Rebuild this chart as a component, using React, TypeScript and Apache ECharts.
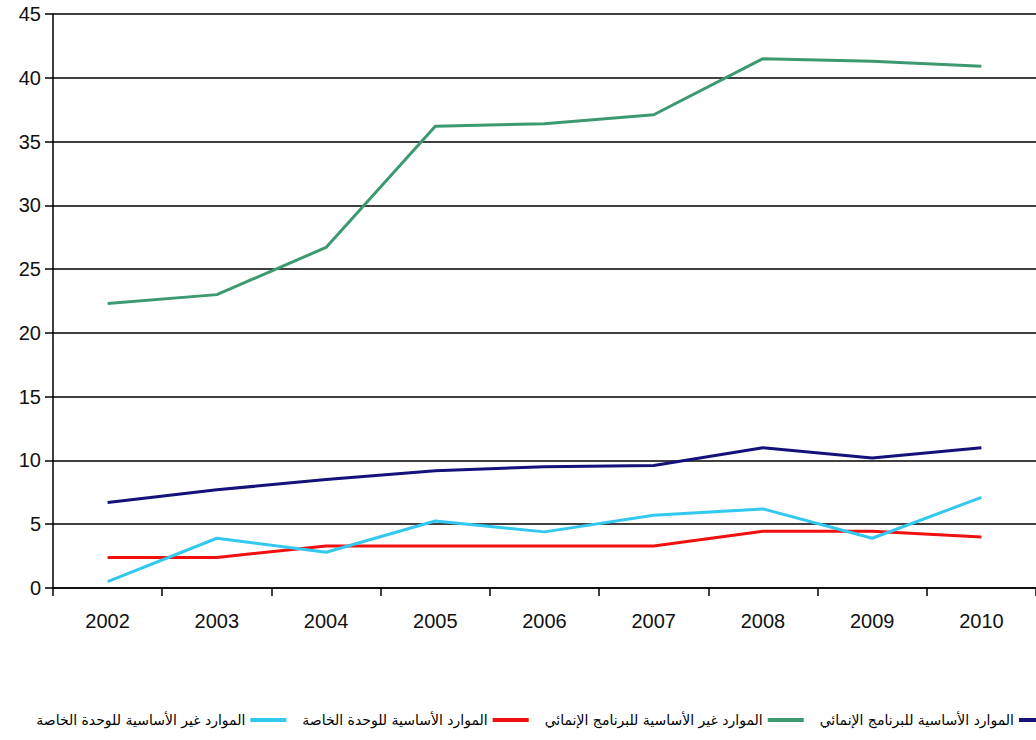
import React, { useEffect, useRef } from "react";
import * as echarts from "echarts";

const years = ["2002", "2003", "2004", "2005", "2006", "2007", "2008", "2009", "2010"];
const coreUndp = [6.7, 7.7, 8.5, 9.2, 9.5, 9.6, 11.0, 10.2, 11.0];
const nonCoreUndp = [22.3, 23.0, 26.7, 36.2, 36.4, 37.1, 41.5, 41.3, 40.9];
const coreUnit = [2.4, 2.4, 3.3, 3.3, 3.3, 3.3, 4.45, 4.45, 4.0];
const nonCoreUnit = [0.5, 3.9, 2.8, 5.25, 4.4, 5.7, 6.2, 3.9, 7.1];
const yTicks = { min: 0, max: 45, interval: 5 };

const names = {
  coreUndp: "الموارد الأساسية للبرنامج الإنمائي",
  nonCoreUndp: "الموارد غير الأساسية للبرنامج الإنمائي",
  coreUnit: "الموارد الأساسية للوحدة الخاصة",
  nonCoreUnit: "الموارد غير الأساسية للوحدة الخاصة",
};

const colors = {
  coreUndp: "#14127a",
  nonCoreUndp: "#3d9a70",
  coreUnit: "#f01010",
  nonCoreUnit: "#33c8f0",
};

export default function App() {
  const ref = useRef<HTMLDivElement>(null);
  useEffect(() => {
    if (!ref.current) return;
    const chart = echarts.init(ref.current, undefined, { renderer: "svg" });
    const mk = (name: string, data: number[], color: string) => ({
      name,
      type: "line",
      data,
      symbol: "none",
      lineStyle: { color, width: 3 },
      itemStyle: { color },
    });
    chart.setOption({
      animation: false,
      backgroundColor: "#ffffff",
      grid: { left: 53, right: -2, top: 14, bottom: 152, containLabel: false },
      legend: {
        right: -24,
        top: 708,
        align: "right",
        itemWidth: 36,
        itemHeight: 4,
        itemGap: 16,
        icon: "rect",
        textStyle: { fontFamily: "DejaVu Serif, DejaVu Sans", fontSize: 14, color: "#000" },
        data: [names.nonCoreUnit, names.coreUnit, names.nonCoreUndp, names.coreUndp],
      },
      xAxis: {
        type: "category",
        data: years,
        boundaryGap: true,
        axisLine: { lineStyle: { color: "#000", width: 1.5 } },
        axisTick: { show: true, length: 8, lineStyle: { color: "#000", width: 1.5 } },
        axisLabel: { color: "#111", fontFamily: "Liberation Sans", fontSize: 20, margin: 23 },
      },
      yAxis: {
        type: "value",
        min: yTicks.min,
        max: yTicks.max,
        interval: yTicks.interval,
        axisLine: { show: true, lineStyle: { color: "#000", width: 1.5 } },
        axisTick: { show: true, length: 8, lineStyle: { color: "#000", width: 1.5 } },
        axisLabel: { color: "#111", fontFamily: "Liberation Sans", fontSize: 20, margin: 12 },
        splitLine: { lineStyle: { color: "#000", width: 1.5 } },
      },
      series: [
        mk(names.nonCoreUndp, nonCoreUndp, colors.nonCoreUndp),
        mk(names.coreUndp, coreUndp, colors.coreUndp),
        mk(names.coreUnit, coreUnit, colors.coreUnit),
        mk(names.nonCoreUnit, nonCoreUnit, colors.nonCoreUnit),
      ],
    });
    return () => chart.dispose();
  }, []);
  return <div ref={ref} style={{ width: 1036, height: 740, position: "absolute", left: 0, top: 0 }} />;
}
